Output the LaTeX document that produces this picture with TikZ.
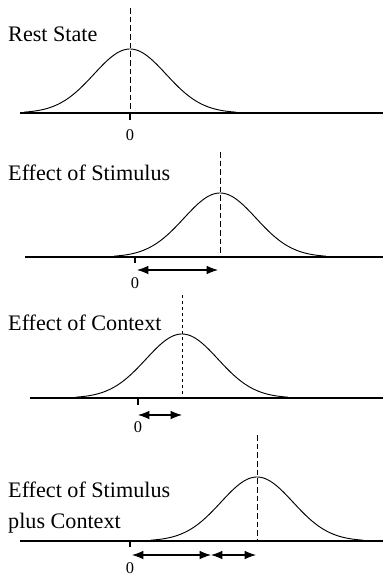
\documentclass[tikz,border=0pt]{standalone}
\usepackage{fontspec}
\setmainfont{Liberation Serif}
\usepackage{tikz}
\usetikzlibrary{arrows.meta,positioning}

% bell curve: centre x, baseline y (pixel units)
\newcommand\bell[2]{plot[domain=-106:106, samples=90] ({#1+\x}, {#2-64*exp(-\x*\x/2600)})}

\begin{document}
\begin{tikzpicture}[x=0.03cm, y=-0.03cm,
  lbl/.style={anchor=west, inner sep=0pt, font=\fontsize{18.9}{21}\selectfont},
  zlab/.style={inner sep=0pt, font=\fontsize{14}{16}\selectfont},
  axis/.style={line width=0.9pt},
  curve/.style={line width=0.8pt},
  mid/.style={dashed, line width=0.8pt, dash pattern=on 0.17cm off 0.09cm},
  shiftarrow/.style={{Latex[length=0.34cm,width=0.26cm]}-{Latex[length=0.34cm,width=0.26cm]}, line width=0.9pt}]
\useasboundingbox (0,0) rectangle (383,578);

% rest state
\node[lbl] (rest) at (8,34) {Rest State};
\draw[axis] (20,113)--(383,113);
\draw[curve] \bell{130}{113};
\draw[mid] (130,8)--(130,113);
\draw[axis] (130,113)--(130,120);
\node[zlab] (z1) at (130,135) {0};

% stimulus
\node[lbl] (stim) at (8,173) {Effect of Stimulus};
\draw[line width=2pt] (25,257)--(383,257);
\draw[curve] \bell{220}{257};
\draw[mid] (220,152)--(220,257);
\draw[axis] (135,257)--(135,263);
\node[zlab] (z2) at (135,283) {0};
\coordinate (a2) at (137,270);
\coordinate (b2) at (218,270);
\draw[shiftarrow] (a2)--(b2);

% context
\node[lbl] (ctx) at (8,323) {Effect of Context};
\draw[axis] (30,398)--(383,398);
\draw[curve] \bell{182}{398};
\draw[mid, dash pattern=on 0.1cm off 0.08cm] (182,295)--(182,398);
\draw[axis] (138,398)--(138,405);
\node[zlab] (z3) at (138,427) {0};
\coordinate (a3) at (138,415);
\coordinate (b3) at (182,415);
\draw[shiftarrow] (a3)--(b3);

% stimulus plus context
\node[lbl] (both) at (8,490) {Effect of Stimulus};
\node[lbl, below=0.45cm of both.south west, anchor=north west] (both2) {plus Context};
\draw[axis] (20,541)--(383,541);
\draw[curve] \bell{257}{541};
\draw[mid] (257,435)--(257,541);
\draw[axis] (130,541)--(130,547);
\node[zlab] (z4) at (130,568) {0};
\coordinate (a4) at (132,555);
\coordinate (m4) at (211,555);
\coordinate (b4) at (256,555);
\draw[shiftarrow] (a4)--(m4);
\draw[shiftarrow] (m4)--(b4);
\end{tikzpicture}
\end{document}
